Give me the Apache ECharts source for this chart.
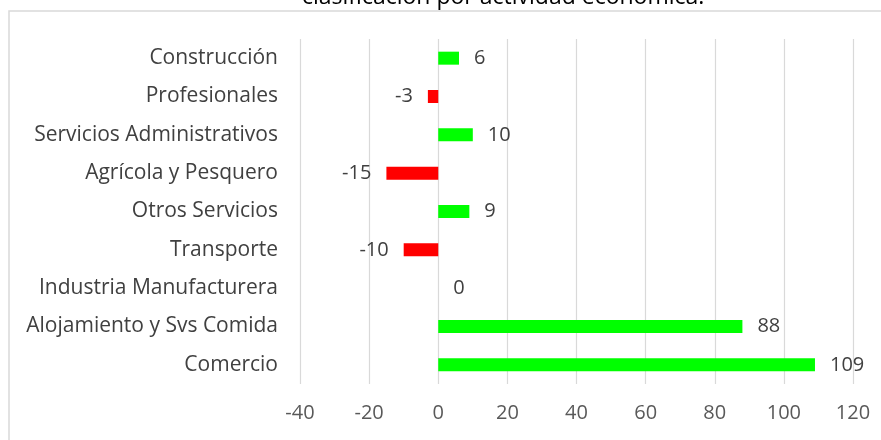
<!DOCTYPE html>
<html>
<head>
    <meta charset="UTF-8">
    <title>Actividad económica</title>
    <script src="https://cdn.jsdelivr.net/npm/echarts@6/dist/echarts.min.js"></script>
</head>
<body style="margin:0;">
<div id="main" style="width:881px;height:440px;"></div>
<script type="text/javascript">
    // categorias de abajo hacia arriba
    var categorias = ['Comercio', 'Alojamiento y Svs Comida', 'Industria Manufacturera', 'Transporte',
        'Otros Servicios', 'Agrícola y Pesquero', 'Servicios Administrativos', 'Profesionales', 'Construcción'];
    var valores = [109, 88, 0, -10, 9, -15, 10, -3, 6];
    var titulo = 'clasificación por actividad económica.';

    var myChart = echarts.init(document.getElementById('main'));

    var datos = [];
    for (var i = 0; i < valores.length; i++) {
        var v = valores[i];
        datos.push({
            value: v,
            itemStyle: {color: v < 0 ? '#ff0000' : '#00ff00'},
            label: {position: v < 0 ? 'left' : 'right'}
        });
    }

    myChart.setOption({
        animation: false,
        title: {
            text: titulo,
            left: 297,
            top: -19,
            textStyle: {fontFamily: 'Open Sans', fontSize: 23, fontWeight: 'normal', color: '#000'}
        },
        graphic: [{
            type: 'rect',
            shape: {x: 9, y: 11, width: 900, height: 460},
            style: {fill: 'none', stroke: '#d9d9d9', lineWidth: 1.5},
            silent: true
        }],
        grid: {left: 300, right: 28, top: 39, bottom: 56},
        xAxis: {
            type: 'value',
            min: -40,
            max: 120,
            interval: 20,
            axisLine: {show: false},
            axisTick: {show: false},
            splitLine: {lineStyle: {color: '#d9d9d9', width: 1.2}},
            axisLabel: {color: '#595959', fontFamily: 'Open Sans', fontSize: 20, margin: 19}
        },
        yAxis: {
            type: 'category',
            data: categorias,
            axisLine: {show: false},
            axisTick: {show: false},
            axisLabel: {color: '#404040', fontFamily: 'Open Sans', fontSize: 21, margin: 22}
        },
        series: [{
            type: 'bar',
            data: datos,
            barWidth: 13,
            label: {
                show: true,
                distance: 15,
                color: '#404040',
                fontFamily: 'Open Sans',
                fontSize: 20
            }
        }]
    });
</script>
</body>
</html>
